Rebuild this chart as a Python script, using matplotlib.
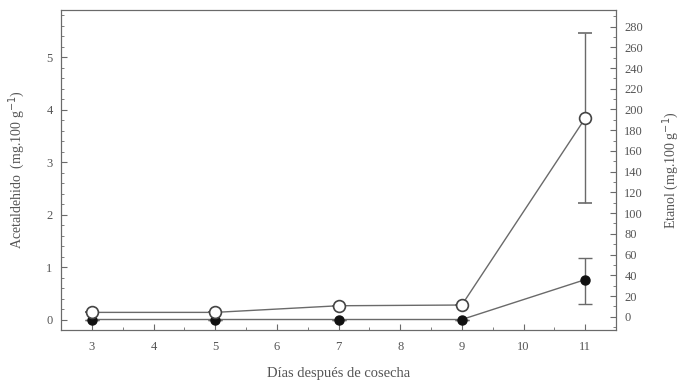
# -*- coding: utf-8 -*-
import numpy as np
import matplotlib
matplotlib.use('Agg')
import matplotlib.pyplot as plt
from matplotlib.ticker import MultipleLocator

# data
dias = [3, 5, 7, 9, 11]
acetaldehido = [0.0, 0.0, 0.0, 0.0, 0.76]
acet_err_lo = [0, 0, 0, 0, 0.47]
acet_err_hi = [0, 0, 0, 0, 0.42]
etanol = [4.2, 4.2, 10.6, 11.3, 191.5]
etanol_err_lo = [0, 0, 0, 0, 82]
etanol_err_hi = [0, 0, 0, 0, 82]

GRIS = '#555555'
LINEA = '#6a6a6a'
plt.rcParams['font.family'] = ['Liberation Serif', 'DejaVu Serif']
plt.rcParams['text.color'] = GRIS
plt.rcParams['axes.labelcolor'] = GRIS

fig = plt.figure(figsize=(6.82, 3.83), dpi=100)
ax = fig.add_axes([61/682, 1-330/383, (616-61)/682, 320/383])
ax2 = ax.twinx()

ax.errorbar(dias, acetaldehido, yerr=[acet_err_lo, acet_err_hi], color=LINEA, lw=1,
            marker='o', ms=6.5, mfc='#111111', mec='#111111', capsize=5, elinewidth=1,
            zorder=3)
ax2.errorbar(dias, etanol, yerr=[etanol_err_lo, etanol_err_hi], color=LINEA, lw=1,
             marker='o', ms=8.5, mfc='white', mec='#444444', mew=1.2, capsize=5,
             elinewidth=1, zorder=3)

ax.set_xlim(2.5, 11.5)
ax.set_ylim(-0.2, 5.9)
ax2.set_ylim(-12.8, 296)

ax.xaxis.set_major_locator(MultipleLocator(1))
ax.xaxis.set_minor_locator(MultipleLocator(0.5))
ax.yaxis.set_minor_locator(MultipleLocator(0.2))
ax2.yaxis.set_minor_locator(MultipleLocator(10))
ax.set_yticks(np.arange(0, 6, 1))
ax2.set_yticks(np.arange(0, 281, 20))

for a in (ax, ax2):
    a.tick_params(which='both', direction='in', colors=LINEA, labelcolor=GRIS, labelsize=9)
    a.tick_params(which='major', length=4)
    a.tick_params(which='minor', length=2)
    for s in a.spines.values():
        s.set_color(LINEA)
ax.tick_params(axis='x', pad=8)
ax.tick_params(axis='y', pad=6)
ax2.tick_params(axis='y', pad=6)

ax.set_xlabel('Días después de cosecha', fontsize=10.5, labelpad=10)
ax.set_ylabel('Acetaldehido  (mg.100 g$^{-1}$)', fontsize=10, labelpad=14)
ax2.set_ylabel('Etanol (mg.100 g$^{-1}$)', fontsize=10, labelpad=12)

fig.savefig('out.png', dpi=100)
